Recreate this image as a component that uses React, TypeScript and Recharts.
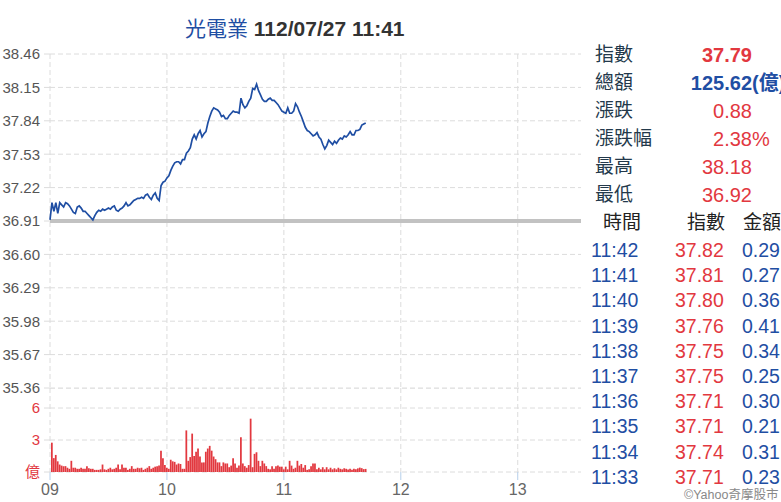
import {
  ComposedChart,
  Line,
  Bar,
  XAxis,
  YAxis,
  CartesianGrid,
  ReferenceLine,
} from "recharts";

// minute-by-minute index from 09:00 to 11:42
const PRICE = [
  36.92, 37.08, 37.0, 37.08, 36.98, 37.08, 37.06, 37.04, 37.08, 37.07,
  37.05, 37.02, 36.99, 36.98, 37.04, 37.05, 37.03, 37.0, 37.0, 36.98,
  36.96, 36.94, 36.92, 36.96, 36.99, 37.01, 37.0, 37.02, 37.01, 37.02,
  37.03, 37.02, 37.04, 37.05, 37.01, 37.0, 37.02, 37.03, 37.05, 37.08,
  37.05, 37.06, 37.08, 37.1, 37.11, 37.12, 37.12, 37.13, 37.12, 37.15,
  37.16, 37.13, 37.11, 37.15, 37.17, 37.12, 37.1, 37.24, 37.27, 37.28,
  37.31, 37.33, 37.38, 37.42, 37.45, 37.46, 37.46, 37.44, 37.48, 37.48,
  37.54, 37.56, 37.59, 37.67, 37.71, 37.67, 37.72, 37.75, 37.69, 37.72,
  37.74, 37.82, 37.88, 37.93, 37.96, 37.95, 37.94, 37.92, 37.88, 37.89,
  37.86, 37.86, 37.89, 37.91, 37.93, 37.92, 37.92, 37.91, 38.05, 37.99,
  37.96, 37.98, 38.02, 38.05, 38.14, 38.13, 38.18, 38.12, 38.08, 38.04,
  38.02, 38.02, 38.04, 38.05, 38.03, 38.03, 38.01, 37.99, 37.96, 37.93,
  37.92, 37.91, 37.96, 37.91, 37.91, 37.93, 38.0, 37.97, 37.92, 37.88,
  37.83, 37.78, 37.75, 37.74, 37.72, 37.7, 37.71, 37.73, 37.69, 37.67,
  37.62, 37.58, 37.61, 37.66, 37.64, 37.62, 37.65, 37.63, 37.66, 37.68,
  37.67, 37.7, 37.69, 37.71, 37.74, 37.71, 37.71, 37.75, 37.75, 37.76,
  37.8, 37.81, 37.82,
];

// amount per minute (億)
const VOLUME = [
  0, 2.75, 1.3, 1.6, 1.0, 0.7, 0.6, 0.55, 0.55, 0.4,
  0.3, 1.05, 0.4, 0.4, 0.3, 0.3, 0.4, 0.3, 0.3, 0.55,
  0.35, 0.3, 0.3, 0.2, 0.2, 0.2, 0.25, 0.7, 0.25, 0.2,
  0.3, 0.4, 0.25, 0.3, 0.4, 0.7, 0.25, 0.7, 0.4, 0.4,
  0.2, 0.3, 0.55, 0.3, 0.3, 0.4, 0.35, 0.4, 0.2, 0.3,
  0.4, 0.55, 0.3, 0.4, 0.5, 0.55, 0.6, 2.0, 1.3, 0.65,
  0.4, 0.3, 1.15, 1.0, 0.95, 0.7, 0.8, 0.75, 0.3, 0.3,
  3.9, 1.05, 1.4, 3.6, 1.5, 1.9, 2.2, 1.45, 0.9, 0.9,
  1.9, 2.2, 2.45, 2.0, 1.45, 1.2, 0.9, 0.9, 0.55, 0.9,
  0.8, 0.8, 0.45, 0.6, 1.3, 0.8, 0.4, 0.6, 3.25, 0.8,
  0.55, 0.4, 0.65, 5.0, 0.45, 1.7, 1.85, 1.05, 0.55, 1.05,
  0.8, 0.55, 0.3, 0.25, 0.55, 0.3, 0.55, 0.6, 0.5, 0.5,
  0.25, 0.5, 0.25, 1.05, 0.6, 0.3, 0.4, 1.05, 0.6, 0.75,
  0.4, 0.65, 0.2, 0.25, 0.55, 0.8, 0.8, 0.25, 0.4, 0.25,
  0.45, 0.25, 0.45, 0.25, 0.4, 0.25, 0.35, 0.25, 0.4, 0.3,
  0.25, 0.35, 0.3, 0.23, 0.31, 0.21, 0.3, 0.25, 0.34, 0.41,
  0.36, 0.27, 0.29,
];

const PREV_CLOSE = 36.91;
const PRICE_TICKS = [38.46, 38.15, 37.84, 37.53, 37.22, 36.91, 36.6, 36.29, 35.98, 35.67, 35.36];
const VOL_TICKS = [0, 3, 6];
const HOUR_TICKS = [0, 60, 120, 180, 240];
const HOUR_LABELS = ["09", "10", "11", "12", "13"];

const SUMMARY_LABELS = ["指數", "總額", "漲跌", "漲跌幅", "最高", "最低"];
const SUMMARY_VALUES = ["37.79", "125.62", "0.88", "2.38", "38.18", "36.92"];
const SUMMARY_SUFFIX = ["", "(億)", "", "%", "", ""];
const SUMMARY_BOLD = [true, true, false, false, false, false];
const SUMMARY_BLUE = [false, true, false, false, false, false];

const TABLE_HEAD = ["時間", "指數", "金額"];
const RECENT_TIMES = ["11:42", "11:41", "11:40", "11:39", "11:38", "11:37", "11:36", "11:35", "11:34", "11:33"];
const RECENT_INDEX = ["37.82", "37.81", "37.80", "37.76", "37.75", "37.75", "37.71", "37.71", "37.74", "37.71"];
const RECENT_AMOUNT = ["0.29", "0.27", "0.36", "0.41", "0.34", "0.25", "0.30", "0.21", "0.31", "0.23"];

const data = PRICE.map((p, i) => ({ t: i, price: p, vol: VOLUME[i] }));

const FONT = "'Liberation Sans', 'Noto Sans CJK TC', sans-serif";
const RED = "#e2383f";
const BLUE = "#1f4ea3";
const GRID = "#dcdcdc";
const X_DOMAIN = [0, 274];

export default function App() {
  return (
    <div
      style={{
        position: "absolute",
        left: 0,
        top: 0,
        width: 781,
        height: 502,
        overflow: "hidden",
        background: "#fff",
        fontFamily: FONT,
      }}
    >
      <div style={{ position: "absolute", left: 185, top: 14, fontSize: 21, lineHeight: "30px", whiteSpace: "nowrap" }}>
        <span style={{ color: BLUE }}>光電業</span>
        <span style={{ color: "#333", fontWeight: "bold" }}> 112/07/27 11:41</span>
      </div>

      <div style={{ position: "absolute", left: 0, top: 0 }}>
        <ComposedChart
          width={781}
          height={400}
          data={data}
          margin={{ top: 54, right: 197, bottom: 12, left: 0 }}
          style={{ fontFamily: FONT }}
        >
          <CartesianGrid stroke={GRID} strokeDasharray="5 3" />
          <XAxis dataKey="t" type="number" domain={X_DOMAIN} ticks={HOUR_TICKS} hide />
          <YAxis
            type="number"
            domain={[35.36, 38.46]}
            ticks={PRICE_TICKS}
            width={50}
            axisLine={false}
            tickLine={{ stroke: GRID }}
            tickSize={6}
            tickMargin={4}
            tick={{ fill: "#555", fontSize: 15 }}
            tickFormatter={(v: number) => v.toFixed(2)}
            interval={0}
          />
          <ReferenceLine y={PREV_CLOSE} stroke="#c2c2c2" strokeWidth={4} />
          <Line
            dataKey="price"
            type="linear"
            stroke={BLUE}
            strokeWidth={1.7}
            dot={false}
            isAnimationActive={false}
          />
        </ComposedChart>
      </div>

      <div style={{ position: "absolute", left: 0, top: 388 }}>
        <ComposedChart
          width={781}
          height={114}
          data={data}
          margin={{ top: 0, right: 197, bottom: 0, left: 0 }}
          style={{ fontFamily: FONT }}
        >
          <CartesianGrid stroke={GRID} strokeDasharray="5 3" />
          <XAxis
            dataKey="t"
            type="number"
            domain={X_DOMAIN}
            ticks={HOUR_TICKS}
            height={30}
            axisLine={false}
            tickLine={{ stroke: "#b6cfea" }}
            tickSize={8}
            tickMargin={4}
            tick={{ fill: "#666", fontSize: 16 }}
            tickFormatter={(v: number) => HOUR_LABELS[HOUR_TICKS.indexOf(v)]}
            interval={0}
          />
          <YAxis
            type="number"
            domain={[0, 7.875]}
            ticks={VOL_TICKS}
            width={50}
            axisLine={false}
            tickLine={{ stroke: GRID }}
            tickSize={6}
            tickMargin={4}
            tick={{ fill: RED, fontSize: 15 }}
            tickFormatter={(v: number) => (v === 0 ? "億" : String(v))}
            interval={0}
          />
          <Bar dataKey="vol" fill={RED} barSize={2} isAnimationActive={false} />
        </ComposedChart>
      </div>

      <div style={{ position: "absolute", left: 581, top: 40, width: 200, height: 462, background: "#fff" }} />

      {SUMMARY_LABELS.map((label, i) => (
        <div key={label} style={{ position: "absolute", top: 41 + i * 28, height: 28, lineHeight: "28px", left: 0, width: 781 }}>
          <span style={{ position: "absolute", left: 595, fontSize: 19, color: "#23394b" }}>{label}</span>
          <span
            style={{
              position: "absolute",
              right: 781 - 752,
              fontSize: 20,
              color: SUMMARY_BLUE[i] ? BLUE : RED,
              fontWeight: SUMMARY_BOLD[i] ? "bold" : "normal",
            }}
          >
            {SUMMARY_VALUES[i]}
          </span>
          <span
            style={{
              position: "absolute",
              left: 752,
              fontSize: 20,
              whiteSpace: "nowrap",
              color: SUMMARY_BLUE[i] ? BLUE : RED,
              fontWeight: SUMMARY_BOLD[i] ? "bold" : "normal",
            }}
          >
            {SUMMARY_SUFFIX[i]}
          </span>
        </div>
      ))}

      <div style={{ position: "absolute", top: 209, height: 28, lineHeight: "28px", left: 0, width: 781, fontSize: 19, color: "#222" }}>
        <span style={{ position: "absolute", left: 603 }}>{TABLE_HEAD[0]}</span>
        <span style={{ position: "absolute", left: 687 }}>{TABLE_HEAD[1]}</span>
        <span style={{ position: "absolute", left: 743 }}>{TABLE_HEAD[2]}</span>
      </div>

      {RECENT_TIMES.map((tm, i) => (
        <div
          key={tm}
          style={{ position: "absolute", top: 238 + i * 25.2, height: 25, lineHeight: "25px", left: 0, width: 781, fontSize: 19.5 }}
        >
          <span style={{ position: "absolute", left: 591, color: BLUE }}>{tm}</span>
          <span style={{ position: "absolute", left: 675, color: RED }}>{RECENT_INDEX[i]}</span>
          <span style={{ position: "absolute", left: 742, color: BLUE }}>{RECENT_AMOUNT[i]}</span>
        </div>
      ))}

      <div style={{ position: "absolute", left: 684, top: 488, fontSize: 12.5, lineHeight: "14px", color: "#888", whiteSpace: "nowrap" }}>
        ©Yahoo奇摩股市
      </div>
    </div>
  );
}
